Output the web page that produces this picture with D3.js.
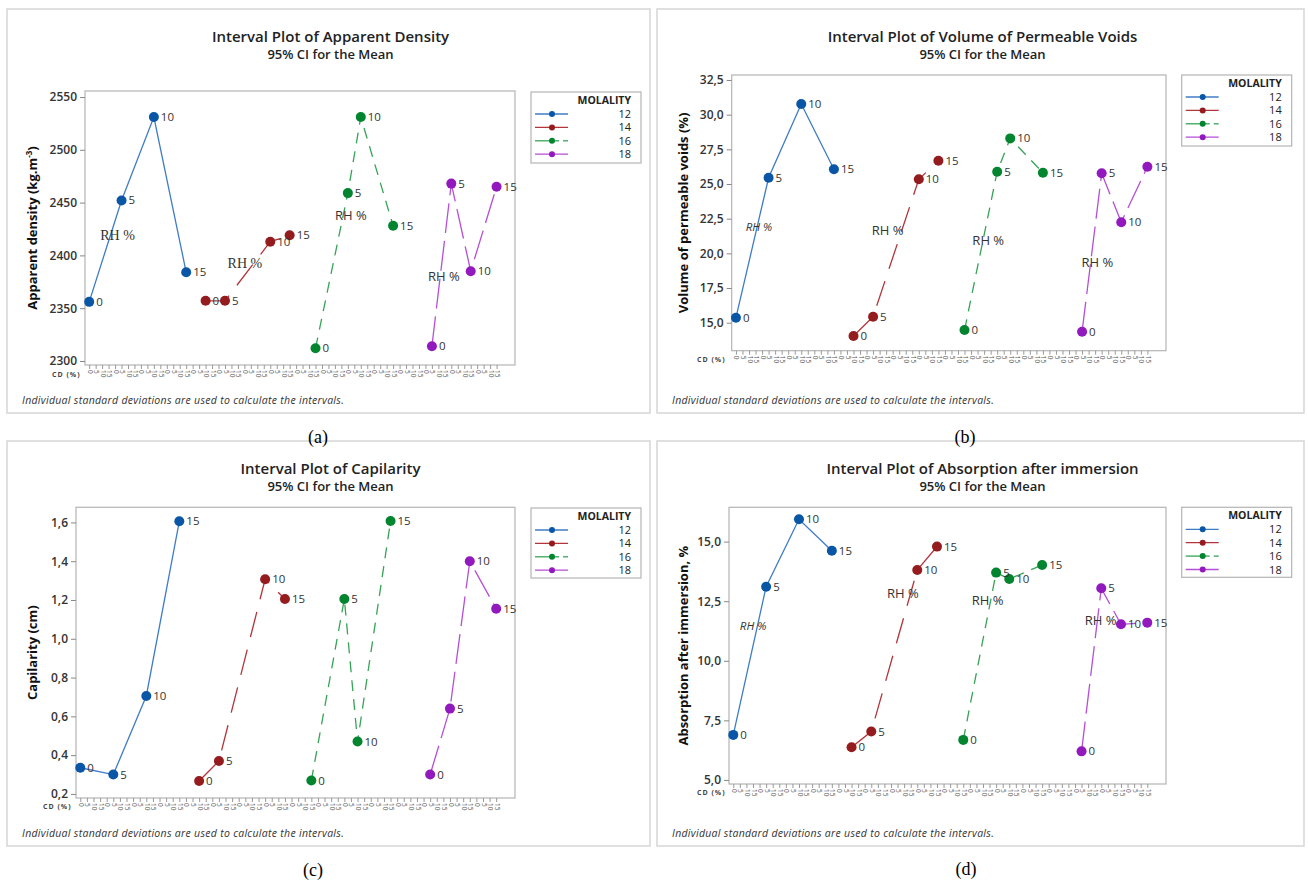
<!DOCTYPE html>
<html><head><meta charset="utf-8">
<script src="https://cdn.jsdelivr.net/npm/d3@7"></script>
<style>body{margin:0;background:#fff}</style>
</head><body>
<svg id="chart" width="1308" height="882"></svg>
<script>
// ---------------- DATA ----------------
const molality = ["12", "14", "16", "18"];
const rhLevels = ["0", "5", "10", "15"];
// position of each mean on the 64-slot categorical CD axis (per molality, per RH)
const cdSlot = [[0, 5, 10, 15], [18, 21, 28, 31], [35, 40, 42, 47], [53, 56, 59, 63]];
const cdTickLabels = ["0", "5", "10", "15"];
const apparentDensity = [[2356, 2452, 2531, 2384], [2357, 2357, 2413, 2419], [2312, 2459, 2531, 2428], [2314, 2468, 2385, 2465]];
const permeableVoids = [[15.36, 25.45, 30.77, 26.06], [14.04, 15.43, 25.34, 26.68], [14.47, 25.89, 28.29, 25.81], [14.35, 25.77, 22.24, 26.25]];
const capilarity = [[0.335, 0.30, 0.705, 1.606], [0.267, 0.37, 1.307, 1.205], [0.269, 1.205, 0.47, 1.607], [0.30, 0.64, 1.40, 1.155]];
const absorption = [[6.89, 13.11, 15.94, 14.62], [6.37, 7.03, 13.81, 14.79], [6.68, 13.70, 13.43, 14.02], [6.2, 13.04, 11.53, 11.60]];
const ticksDensity = [2300, 2350, 2400, 2450, 2500, 2550];
const ticksVoids = [15, 17.5, 20, 22.5, 25, 27.5, 30, 32.5];
const ticksCap = [0.2, 0.4, 0.6, 0.8, 1.0, 1.2, 1.4, 1.6];
const ticksAbs = [5, 7.5, 10, 12.5, 15];
// "RH %" annotations: [slot, value] per molality
const rhNoteDensity = [[1.7, 2419], [21.4, 2393], [38.0, 2438], [52.4, 2380]];
const rhNoteVoids = [[1.5, 21.9], [20.8, 21.65], [36.2, 20.9], [52.9, 19.35]];
const rhNoteAbs = [[1.0, 11.46], [23.4, 12.84], [36.3, 12.55], [53.5, 11.71]];

// ---------------- STYLE ----------------
const markColor = ["#0a56a6", "#941b1e", "#03842f", "#9219be"];
const lineColor = ["#3f7cc6", "#b2353a", "#36a357", "#b54fd8"];
const dashes = [null, "26,13", "11,8", "30,8"];
const sans = "'Open Sans', 'Noto Sans', sans-serif";

const svg = d3.select("#chart");
const baseLayer = svg.append("g");
const letterLayer = svg.append("g");

const panels = [
  { key: "a", box: [7, 9, 650, 413], plot: [85, 91, 515, 365], dom: [2296.2, 2555.7], ticks: ticksDensity, fmt: d3.format("d"),
    values: apparentDensity, notes: rhNoteDensity, noteFont: ["serif", "serif", "sans", "sans"],
    title: "Interval Plot of Apparent Density", ylab: ["Apparent density (kg.m", "-3", ")"], yLabX: 37,
    legend: [531, 92, 641, 163], letter: [318, 443], titleY: 42, cdLab: [52, 377], foot: [22, 404] },
  { key: "b", box: [657, 9, 1304, 413], plot: [731.7, 75, 1166, 350.7], dom: [12.98, 32.86], ticks: ticksVoids, fmt: v => d3.format(".1f")(v).replace(".", ","),
    values: permeableVoids, notes: rhNoteVoids, noteFont: ["sansI", "sans", "sans", "sans"],
    title: "Interval Plot of Volume of Permeable Voids", ylab: ["Volume of permeable voids  (%)"], yLabX: 688,
    legend: [1181.7, 75, 1291.7, 146], letter: [965, 443], titleY: 42, cdLab: [697, 362], foot: [672, 404] },
  { key: "c", box: [7, 441, 650, 846], plot: [76, 507.3, 515, 798], dom: [0.179, 1.678], ticks: ticksCap, fmt: v => d3.format(".1f")(v).replace(".", ","),
    values: capilarity, notes: null,
    title: "Interval Plot of Capilarity", ylab: ["Capilarity (cm)"], yLabX: 37,
    legend: [531, 508, 641, 578], letter: [313, 876], titleY: 474, cdLab: [43, 809], foot: [22, 837] },
  { key: "d", box: [657, 441, 1304, 846], plot: [729, 507.3, 1166, 784], dom: [4.83, 16.44], ticks: ticksAbs, fmt: v => d3.format(".1f")(v).replace(".", ","),
    values: absorption, notes: rhNoteAbs, noteFont: ["sansI", "sans", "sans", "sans"],
    title: "Interval Plot of Absorption after immersion", ylab: ["Absorption after immersion, %"], yLabX: 688,
    legend: [1181.7, 507.3, 1291.7, 577.3], letter: [966, 875], titleY: 474, cdLab: [697, 795], foot: [672, 837] }
];

panels.forEach(p => {
  const g = baseLayer.append("g");
  const [bx0, by0, bx1, by1] = p.box;
  g.append("rect").attr("x", bx0).attr("y", by0).attr("width", bx1 - bx0).attr("height", by1 - by0)
    .attr("fill", "#fff").attr("stroke", "#d6d6d6").attr("stroke-width", 1.5);

  const [l, t, r, b] = p.plot;
  const x = d3.scaleLinear().domain([-0.65, 65.85]).range([l, r]);
  const y = d3.scaleLinear().domain(p.dom).range([b, t]);

  // titles
  const cx = (bx0 + bx1) / 2 + 2;
  g.append("text").attr("x", cx).attr("y", p.titleY).attr("text-anchor", "middle")
    .attr("font-family", sans).attr("font-weight", 600).attr("font-size", 15).attr("fill", "#222").text(p.title);
  g.append("text").attr("x", cx).attr("y", p.titleY + 17).attr("text-anchor", "middle")
    .attr("font-family", sans).attr("font-weight", 600).attr("font-size", 13).attr("fill", "#222").text("95% CI for the Mean");

  // plot frame
  g.append("rect").attr("x", l).attr("y", t).attr("width", r - l).attr("height", b - t)
    .attr("fill", "none").attr("stroke", "#b4b4b4").attr("stroke-width", 1.2);

  // y axis
  const yAxis = d3.axisLeft(y).tickValues(p.ticks).tickFormat(p.fmt).tickSize(5).tickPadding(3);
  const ya = g.append("g").attr("transform", `translate(${l},0)`).call(yAxis);
  ya.select(".domain").remove();
  ya.selectAll("line").attr("stroke", "#888");
  ya.selectAll("text").attr("font-family", sans).attr("font-weight", 600).attr("font-size", 12).attr("fill", "#333");

  // y label
  const yl = g.append("text").attr("transform", `translate(${p.yLabX},${(t + b) / 2}) rotate(-90)`)
    .attr("text-anchor", "middle").attr("font-family", sans).attr("font-weight", 700).attr("font-size", 13).attr("fill", "#111");
  yl.append("tspan").text(p.ylab[0]);
  if (p.ylab.length > 1) {
    yl.append("tspan").attr("dy", -5).attr("font-size", 8).text(p.ylab[1]);
    yl.append("tspan").attr("dy", 5).text(p.ylab[2]);
  }

  // x axis ticks (64 slots)
  const slots = d3.range(64);
  const xAxis = d3.axisBottom(x).tickValues(slots).tickSize(4).tickFormat(i => cdTickLabels[i % 4]);
  const xa = g.append("g").attr("transform", `translate(0,${b})`).call(xAxis);
  xa.select(".domain").remove();
  xa.selectAll("line").attr("stroke", "#999");
  xa.selectAll("text").attr("font-family", sans).attr("font-size", 6.5).attr("fill", "#555")
    .attr("transform", "rotate(90)").attr("text-anchor", "start").attr("x", 5).attr("y", 0).attr("dy", "0.3em");
  g.append("text").attr("x", p.cdLab[0]).attr("y", p.cdLab[1]).attr("font-family", sans).attr("font-size", 7)
    .attr("font-weight", 700).attr("fill", "#444").attr("letter-spacing", 1).text("CD (%)");

  // series
  molality.forEach((m, k) => {
    const pts = p.values[k].map((v, j) => ({ sx: cdSlot[k][j], v, rh: rhLevels[j] }));
    const line = d3.line().x(d => x(d.sx)).y(d => y(d.v));
    g.append("path").attr("d", line(pts)).attr("fill", "none").attr("stroke", lineColor[k])
      .attr("stroke-width", 1.3).attr("stroke-dasharray", dashes[k]);
    g.selectAll(null).data(pts).enter().append("circle")
      .attr("cx", d => x(d.sx)).attr("cy", d => y(d.v)).attr("r", 5).attr("fill", markColor[k]);
    g.selectAll(null).data(pts).enter().append("text")
      .attr("x", d => x(d.sx) + 7).attr("y", d => y(d.v) + 4)
      .attr("font-family", sans).attr("font-size", 11.5).attr("fill", "#333").text(d => d.rh);
    if (p.notes) {
      const nt = p.notes[k];
      const f = p.noteFont[k];
      g.append("text").attr("x", x(nt[0])).attr("y", y(nt[1])).attr("dy", "0.35em")
        .attr("font-family", f === "serif" ? "'Liberation Serif', 'Times New Roman', serif" : sans)
        .attr("font-size", f === "serif" ? 14 : (f === "sansI" ? 11.5 : 13))
        .attr("font-style", f === "sansI" ? "italic" : "normal")
        .attr("fill", "#333").text("RH %");
    }
  });

  // legend
  const [lx0, ly0, lx1, ly1] = p.legend;
  g.append("rect").attr("x", lx0).attr("y", ly0).attr("width", lx1 - lx0).attr("height", ly1 - ly0)
    .attr("fill", "#fff").attr("stroke", "#b4b4b4").attr("stroke-width", 1.2);
  g.append("text").attr("x", lx1 - 10).attr("y", ly0 + 12).attr("text-anchor", "end")
    .attr("font-family", sans).attr("font-weight", 700).attr("font-size", 10.5).attr("fill", "#222").text("MOLALITY");
  molality.forEach((m, k) => {
    const yy = ly0 + 22 + k * 13.4;
    if (k === 2) {
      g.append("line").attr("x1", lx0 + 4).attr("x2", lx0 + 28).attr("y1", yy).attr("y2", yy).attr("stroke", lineColor[k]).attr("stroke-width", 1.3);
      g.append("line").attr("x1", lx0 + 32).attr("x2", lx0 + 37).attr("y1", yy).attr("y2", yy).attr("stroke", lineColor[k]).attr("stroke-width", 1.3);
    } else {
      g.append("line").attr("x1", lx0 + 4).attr("x2", lx0 + 37).attr("y1", yy).attr("y2", yy).attr("stroke", lineColor[k]).attr("stroke-width", 1.3);
    }
    g.append("circle").attr("cx", lx0 + 21).attr("cy", yy).attr("r", 3).attr("fill", markColor[k]);
    g.append("text").attr("x", lx1 - 10).attr("y", yy + 4).attr("text-anchor", "end")
      .attr("font-family", sans).attr("font-size", 11).attr("fill", "#222").text(m);
  });

  // footnote
  g.append("text").attr("x", p.foot[0]).attr("y", p.foot[1]).attr("font-family", sans).attr("font-style", "italic")
    .attr("font-size", 10.5).attr("fill", "#333").attr("letter-spacing", 0.3)
    .text("Individual standard deviations are used to calculate the intervals.");

  // panel letter (drawn on top)
  letterLayer.append("text").attr("x", p.letter[0]).attr("y", p.letter[1]).attr("text-anchor", "middle")
    .attr("font-family", "'Liberation Serif', 'Times New Roman', serif").attr("font-size", 18).attr("fill", "#000")
    .text(`(${p.key})`);
});
</script>
</body></html>
